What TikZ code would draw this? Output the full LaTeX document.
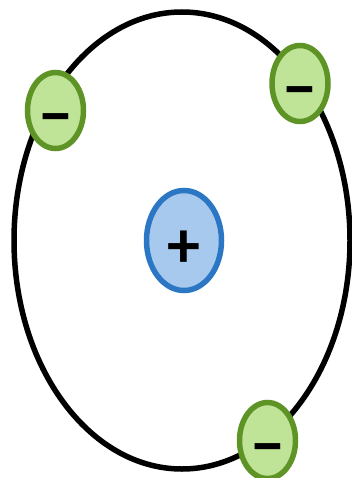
\documentclass[tikz,border=0pt]{standalone}
\usepackage{fontspec}
\setmainfont{Carlito}
\usetikzlibrary{shapes.geometric}
\definecolor{eFill}{HTML}{C0E497}
\definecolor{eLine}{HTML}{5E9325}
\definecolor{pFill}{HTML}{A7C9ED}
\definecolor{pLine}{HTML}{2B77C4}
\newcommand{\charge}[1]{\smash{\raisebox{-27pt}{\fontsize{66}{66}\selectfont\bfseries #1}}}

\begin{document}
\begin{tikzpicture}[x=1pt, y=-1pt,
    orbit/.style={draw=black, line width=5.5pt},
    electron/.style={ellipse, draw=eLine, fill=eFill, line width=5.5pt,
      minimum width=56pt, minimum height=76pt, inner sep=0pt},
    proton/.style={ellipse, draw=pLine, fill=pFill, line width=5.5pt,
      minimum width=75pt, minimum height=100pt, inner sep=0pt}]
  \useasboundingbox (0,0) rectangle (352,478);
  \draw[orbit] (182,240.5) ellipse [x radius=168, y radius=228.5];
  \node[proton] (p1) at (184,240.5) {\charge{+}};
  \node[electron] (e1) at (55.5,110.5) {\charge{−}};
  \node[electron] (e2) at (300,83.5) {\charge{−}};
  \node[electron] (e3) at (267.5,440.5) {\charge{−}};
\end{tikzpicture}
\end{document}
